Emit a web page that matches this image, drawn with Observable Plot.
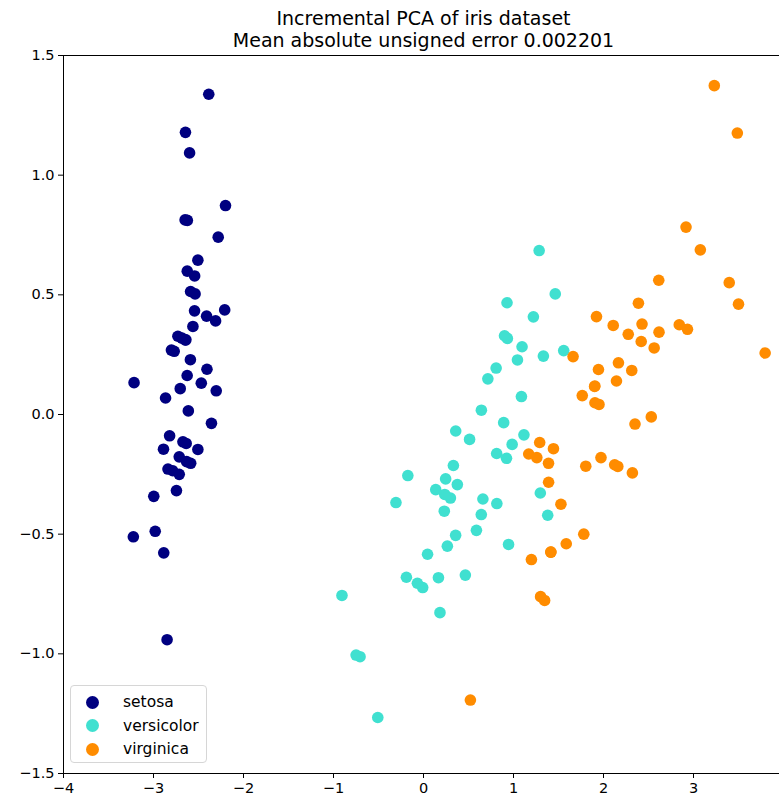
<!DOCTYPE html>
<html>
<head>
<meta charset="utf-8">
<script src="https://cdn.jsdelivr.net/npm/d3@7"></script>
<script src="https://cdn.jsdelivr.net/npm/@observablehq/plot@0.6"></script>
<style>
  html, body { margin: 0; padding: 0; background: #fff; overflow: hidden; }
  #wrap { position: relative; width: 779px; height: 798px; font-family: "DejaVu Sans", sans-serif; }
  #legend { position: absolute; left: 70px; top: 685px; width: 137px; height: 78px;
    border: 1px solid #d6d6d6; border-radius: 4px; background: rgba(255,255,255,0.8); box-sizing: border-box; }
  .item { position: absolute; left: 0; height: 20px; display: flex; align-items: center; font-size: 15.5px; color: #000; }
  .sw { display: inline-block; width: 13px; height: 13px; border-radius: 50%; margin-left: 15px; margin-right: 24px; }
</style>
</head>
<body>
<div id="wrap"><div id="chart"></div><div id="legend"></div></div>
<script>
const titleLines = ["Incremental PCA of iris dataset", "Mean absolute unsigned error 0.002201"];
const classNames = ["setosa", "versicolor", "virginica"];
const classColors = ["navy", "turquoise", "darkorange"];
const xTicks = [-4, -3, -2, -1, 0, 1, 2, 3, 4];
const yTicks = [-1.5, -1.0, -0.5, 0.0, 0.5, 1.0, 1.5];

const setosa = [
[-2.684,0.319],[-2.714,-0.177],[-2.889,-0.145],[-2.745,-0.318],[-2.729,0.327],[-2.281,0.741],[-2.821,-0.089],[-2.626,0.163],[-2.886,-0.578],[-2.673,-0.114],
[-2.507,0.645],[-2.613,0.015],[-2.786,-0.235],[-3.224,-0.511],[-2.645,1.179],[-2.386,1.338],[-2.624,0.811],[-2.648,0.312],[-2.200,0.873],[-2.588,0.514],
[-2.310,0.391],[-2.544,0.433],[-3.216,0.133],[-2.303,0.099],[-2.356,-0.037],[-2.507,-0.146],[-2.469,0.131],[-2.562,0.368],[-2.640,0.312],[-2.632,-0.197],
[-2.587,-0.204],[-2.410,0.411],[-2.649,0.813],[-2.599,1.093],[-2.637,-0.121],[-2.866,0.069],[-2.625,0.599],[-2.801,0.269],[-2.981,-0.488],[-2.590,0.229],
[-2.770,0.264],[-2.849,-0.941],[-2.997,-0.342],[-2.406,0.189],[-2.209,0.437],[-2.714,-0.250],[-2.538,0.504],[-2.839,-0.228],[-2.543,0.579],[-2.703,0.108]
];
const versicolor = [
[1.285,0.685],[0.932,0.318],[1.464,0.504],[0.183,-0.828],[1.088,0.075],[0.642,-0.418],[1.095,0.283],[-0.749,-1.005],[1.044,0.228],[-0.009,-0.723],
[-0.508,-1.266],[0.512,-0.104],[0.265,-0.550],[0.985,-0.125],[-0.174,-0.255],[0.928,0.467],[0.660,-0.353],[0.236,-0.334],[0.945,-0.543],[0.045,-0.584],
[1.116,-0.085],[0.358,-0.069],[1.298,-0.328],[0.922,-0.183],[0.715,0.149],[0.900,0.329],[1.332,0.244],[1.558,0.267],[0.813,-0.163],[-0.306,-0.368],
[-0.068,-0.705],[-0.190,-0.680],[0.136,-0.314],[1.380,-0.421],[0.588,-0.484],[0.807,0.194],[1.221,0.408],[0.815,-0.372],[0.246,-0.269],[0.166,-0.682],
[0.465,-0.671],[0.891,-0.034],[0.231,-0.404],[-0.705,-1.012],[0.357,-0.505],[0.332,-0.213],[0.376,-0.293],[0.643,0.018],[-0.906,-0.756],[0.299,-0.349]
];
const virginica = [
[2.531,-0.010],[1.415,-0.575],[2.617,0.344],[1.972,-0.180],[2.350,-0.040],[3.397,0.551],[0.521,-1.193],[2.933,0.356],[2.321,-0.244],[2.917,0.783],
[1.662,0.242],[1.803,-0.216],[2.166,0.216],[1.346,-0.777],[1.586,-0.540],[1.904,0.119],[1.950,0.042],[3.487,1.176],[3.796,0.257],[1.301,-0.761],
[2.428,0.378],[1.199,-0.606],[3.500,0.461],[1.389,-0.204],[2.275,0.335],[2.614,0.561],[1.259,-0.180],[1.291,-0.117],[2.124,-0.210],[2.388,0.465],
[2.842,0.375],[3.231,1.374],[2.159,-0.217],[1.444,-0.143],[1.781,-0.500],[3.076,0.688],[2.144,0.140],[1.905,0.049],[1.169,-0.165],[2.108,0.372],
[2.314,0.184],[1.922,0.409],[1.415,-0.575],[2.563,0.278],[2.419,0.305],[1.944,0.188],[1.527,-0.375],[1.764,0.079],[1.901,0.117],[1.390,-0.283]
];

const groups = [setosa, versicolor, virginica];
const fmtX = d3.format("d");
const fmtY = d3.format(".1f");

const dotMarks = groups.map((g, i) => Plot.dot(g, {
  x: d => d[0], y: d => d[1], r: 5.8,
  fill: classColors[i], stroke: classColors[i], strokeWidth: 0
}));

const chart = Plot.plot({
  width: 779,
  height: 798,
  marginLeft: 63,
  marginRight: -4,
  marginTop: 55,
  marginBottom: 25,
  style: { fontFamily: "DejaVu Sans, sans-serif", fontSize: "14px", color: "#000", background: "#fff" },
  x: { domain: [-4, 4] },
  y: { domain: [-1.5, 1.5] },
  marks: [
    ...dotMarks,
    Plot.frame({ stroke: "#000", strokeWidth: 1 }),
    Plot.axisX({ ticks: xTicks, tickFormat: fmtX, tickSize: 5, tickPadding: 4, label: null, fontSize: 14.5 }),
    Plot.axisY({ ticks: yTicks, tickFormat: fmtY, tickSize: 5, tickPadding: 4, label: null, fontSize: 14.5 }),
    Plot.text([titleLines[0]], { text: d => d, frameAnchor: "top", dy: -37, fontSize: 19, lineAnchor: "middle" }),
    Plot.text([titleLines[1]], { text: d => d, frameAnchor: "top", dy: -15, fontSize: 19, lineAnchor: "middle" })
  ]
});
document.getElementById("chart").appendChild(chart);

const legend = document.getElementById("legend");
classNames.forEach((name, i) => {
  const item = document.createElement("div");
  item.className = "item";
  item.style.top = (6 + i * 23.5) + "px";
  const sw = document.createElement("span");
  sw.className = "sw";
  sw.style.background = classColors[i];
  const label = document.createElement("span");
  label.textContent = name;
  item.appendChild(sw);
  item.appendChild(label);
  legend.appendChild(item);
});
</script>
</body>
</html>
